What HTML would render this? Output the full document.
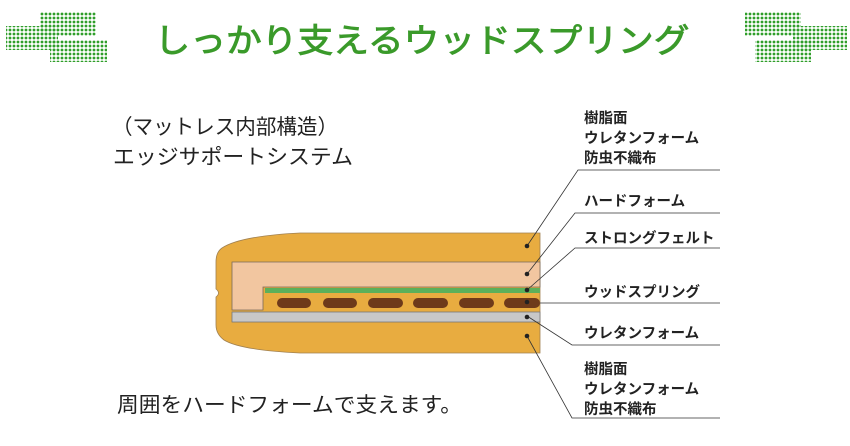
<!DOCTYPE html>
<html><head><meta charset="utf-8"><style>
html,body{margin:0;padding:0;background:#fff;}
svg{display:block;font-family:"Liberation Sans","Noto Sans CJK JP",sans-serif;}
</style></head><body>
<svg width="850" height="446" viewBox="0 0 850 446" xmlns="http://www.w3.org/2000/svg">
<defs>
<pattern id="dots" x="0" y="0" width="4" height="4" patternUnits="userSpaceOnUse">
<rect x="0.6" y="0.6" width="2.8" height="2.8" rx="1.2" fill="#2f9e2a"/>
</pattern>
</defs>
<rect width="850" height="446" fill="#fff"/>
<rect x="40" y="12" width="56" height="24" fill="url(#dots)"/>
<rect x="6" y="26" width="52" height="24" fill="url(#dots)"/>
<rect x="50" y="40" width="57" height="22" fill="url(#dots)"/>
<rect x="745" y="12" width="56" height="24" fill="url(#dots)"/>
<rect x="793" y="26" width="54" height="24" fill="url(#dots)"/>
<rect x="755" y="40" width="56" height="22" fill="url(#dots)"/>
<text x="422" y="52" text-anchor="middle" font-size="33" fill="#3a9a2a" stroke="#3a9a2a" stroke-width="0.9" textLength="535" lengthAdjust="spacingAndGlyphs">しっかり支えるウッドスプリング</text>
<g font-size="21" fill="#222">
<text x="112" y="134" textLength="226" lengthAdjust="spacingAndGlyphs">（マットレス内部構造）</text>
<text x="113" y="164" textLength="240" lengthAdjust="spacingAndGlyphs">エッジサポートシステム</text>
<text x="117" y="412" textLength="345" lengthAdjust="spacingAndGlyphs">周囲をハードフォームで支えます。</text>
</g>
<path d="M540 233 L300 233 Q240 236 222 248 Q216 252 216 262 L216 289 Q221 293 216 297 L216 325 Q216 334 224 340 Q240 350 300 353 L540 353 Z" fill="#e8ac40" stroke="#a08050" stroke-width="0.8"/>
<path d="M540 262 L232 262 L232 310 L263 310 L263 287 L540 287 Z" fill="#f2c6a0" stroke="#7a6a5a" stroke-width="0.8"/>
<rect x="265" y="288" width="275" height="5" fill="#5cb05a"/>
<rect x="232" y="312" width="308" height="10" fill="#c8c8c8" stroke="#777" stroke-width="0.8"/>
<g fill="#6e3a1a">
<rect x="277" y="298" width="34" height="10" rx="5"/>
<rect x="323" y="298" width="34" height="10" rx="5"/>
<rect x="368" y="298" width="35" height="10" rx="5"/>
<rect x="413" y="298" width="35" height="10" rx="5"/>
<rect x="459" y="298" width="35" height="10" rx="5"/>
<rect x="504" y="298" width="36" height="10" rx="5"/>
</g>
<g stroke="#333" stroke-width="0.8" fill="none">
<polyline points="527,246 578,170 720,170"/>
<polyline points="527,274 575,213 720,213"/>
<polyline points="527,290 575,248 720,248"/>
<polyline points="540,303 720,303"/>
<polyline points="527,316 572,345 720,345"/>
<polyline points="527,336 572,418 720,418"/>
</g>
<g fill="#222">
<circle cx="527" cy="246" r="2.3"/><circle cx="527" cy="274" r="2.3"/>
<circle cx="527" cy="290" r="2.3"/><circle cx="527" cy="302" r="2.3"/>
<circle cx="527" cy="317" r="2.3"/><circle cx="527" cy="336" r="2.3"/>
</g>
<g font-size="14.5" font-weight="bold" fill="#222">
<text x="584" y="123">樹脂面</text>
<text x="584" y="143">ウレタンフォーム</text>
<text x="584" y="163">防虫不織布</text>
<text x="584" y="206">ハードフォーム</text>
<text x="584" y="243">ストロングフェルト</text>
<text x="584" y="297">ウッドスプリング</text>
<text x="584" y="338">ウレタンフォーム</text>
<text x="584" y="374">樹脂面</text>
<text x="584" y="394">ウレタンフォーム</text>
<text x="584" y="414">防虫不織布</text>
</g>
</svg>
</body></html>
